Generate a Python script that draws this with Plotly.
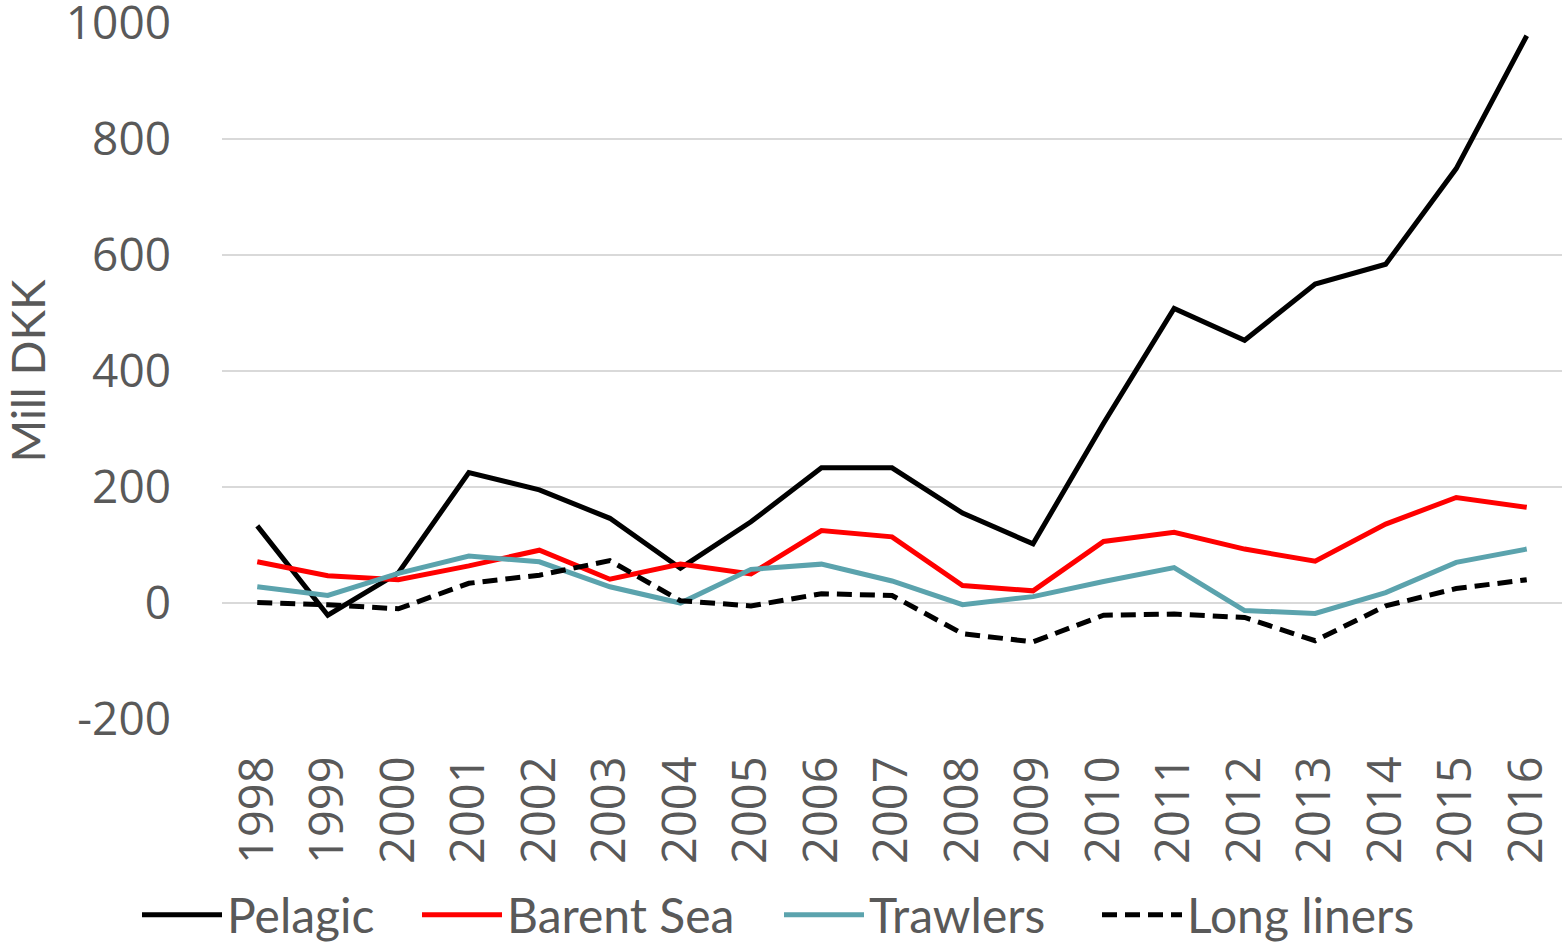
import plotly.graph_objects as go

years = list(range(1998, 2017))
pelagic = [133, -21, 52, 225, 195, 146, 60, 140, 233, 233, 155, 102, 310, 508, 453, 550, 584, 749, 978]
barent_sea = [71, 47, 40, 64, 91, 41, 67, 50, 125, 114, 30, 21, 106, 122, 93, 72, 136, 182, 165]
trawlers = [28, 13, 51, 81, 71, 28, 0, 58, 67, 38, -3, 11, 37, 61, -13, -18, 18, 70, 93]
long_liners = [1, -3, -10, 34, 48, 73, 4, -5, 16, 13, -53, -67, -21, -19, -25, -65, -5, 25, 40]

y_ticks = [-200, 0, 200, 400, 600, 800, 1000]
y_tick_text = ["-200", "0", "200", "400", "600", "800", "1000"]
tick_color = "#595959"

series = [
    ("Pelagic", pelagic, "#000000", "solid", "legend", 145),
    ("Barent Sea", barent_sea, "#ff0000", "solid", "legend2", 425),
    ("Trawlers", trawlers, "#5ba3ad", "solid", "legend3", 787),
    ("Long liners", long_liners, "#000000", "15px,8px", "legend4", 1105),
]

W, H = 1564, 943
fig = go.Figure()
legends = {}
for name, vals, color, dash, leg, lx in series:
    fig.add_trace(go.Scatter(
        x=years, y=vals, name=name, mode="lines", legend=leg,
        line=dict(color=color, width=5, dash=dash),
    ))
    legends[leg] = dict(
        orientation="h", xref="container", yref="container",
        x=(lx - 8) / W, xanchor="left", y=1 - 915 / H, yanchor="middle",
        font=dict(family="Lato", size=48, color=tick_color),
        itemwidth=80, bgcolor="rgba(0,0,0,0)",
    )

fig.update_layout(
    width=W, height=H,
    margin=dict(l=222, r=2, t=23, b=224, autoexpand=False),
    paper_bgcolor="white", plot_bgcolor="white",
    showlegend=True,
    font=dict(family="Open Sans", color=tick_color),
    **legends,
)
fig.update_xaxes(
    range=[1997.5, 2016.5], tickvals=years, ticktext=[str(y) for y in years],
    tickangle=-90, tickfont=dict(family="Open Sans", size=47, color=tick_color),
    showgrid=False, zeroline=False, showline=False, ticks="",
    ticklabelstandoff=27, automargin=False, ticklabeloverflow="allow",
)
fig.update_yaxes(
    range=[-200, 1000], tickvals=y_ticks, ticktext=y_tick_text,
    tickfont=dict(family="Open Sans", size=46, color=tick_color),
    showgrid=True, gridcolor="#d9d9d9", gridwidth=2,
    zeroline=False, showline=False, ticks="",
    ticklabelstandoff=50, automargin=False, ticklabeloverflow="allow",
    title=dict(text="Mill DKK", font=dict(family="Lato", size=46, color=tick_color), standoff=14),
)

fig.write_html(
    "out.html",
    config={"displayModeBar": False},
    post_script="document.body.style.margin='0';document.body.style.overflow='hidden';",
)
